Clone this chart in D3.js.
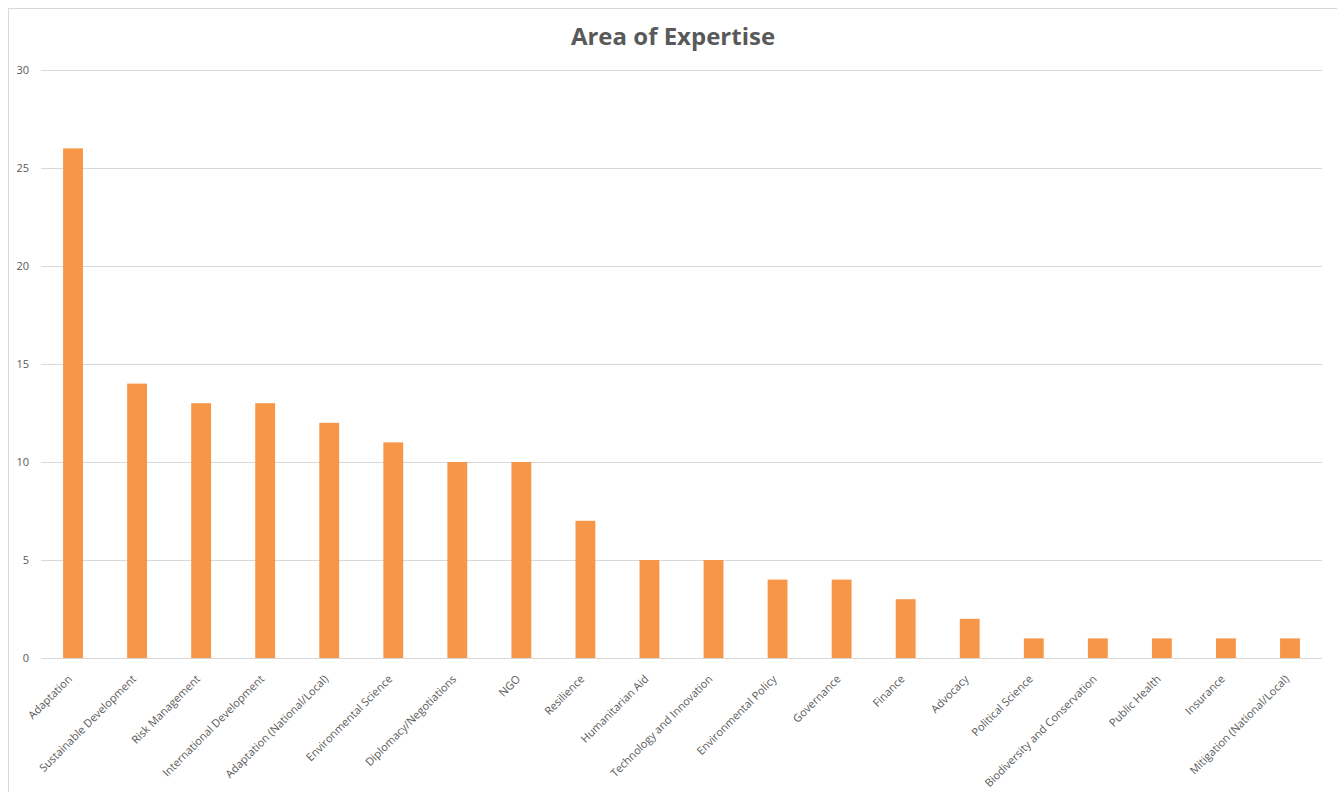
<!DOCTYPE html>
<html>
<head>
<meta charset="utf-8">
<script src="https://cdn.jsdelivr.net/npm/d3@7"></script>
<style>
  body { margin: 0; background: #fff; }
  text { font-family: "Open Sans", "Noto Sans", sans-serif; fill: #595959; }
</style>
</head>
<body>
<div id="chart"></div>
<script>
// Chart data
const categories = [
    "Adaptation", "Sustainable Development", "Risk Management", "International Development",
    "Adaptation (National/Local)", "Environmental Science", "Diplomacy/Negotiations", "NGO",
    "Resilience", "Humanitarian Aid", "Technology and Innovation", "Environmental Policy",
    "Governance", "Finance", "Advocacy", "Political Science", "Biodiversity and Conservation",
    "Public Health", "Insurance", "Mitigation (National/Local)"
];
const counts = [26, 14, 13, 13, 12, 11, 10, 10, 7, 5, 5, 4, 4, 3, 2, 1, 1, 1, 1, 1];
const yTicks = [0, 5, 10, 15, 20, 25, 30];

const svgWidth = 1337;
const svgHeight = 792;

const margin = { top: 70, right: 15, bottom: 134, left: 41 };
const width = svgWidth - margin.left - margin.right;
const height = svgHeight - margin.top - margin.bottom;

const svg = d3.select("#chart")
    .append("svg")
    .attr("width", svgWidth)
    .attr("height", svgHeight);

// Chart frame
svg.append("rect")
    .attr("x", 8.5)
    .attr("y", 8.5)
    .attr("width", svgWidth)
    .attr("height", svgHeight)
    .attr("fill", "none")
    .attr("stroke", "#d9d9d9");

// Title
svg.append("text")
    .attr("x", 673)
    .attr("y", 45)
    .attr("text-anchor", "middle")
    .attr("font-size", "24px")
    .attr("font-weight", "bold")
    .text("Area of Expertise");

const chartGroup = svg.append("g")
    .attr("transform", `translate(${margin.left}, ${margin.top})`);

const xScale = d3.scaleBand()
    .domain(categories)
    .range([0, width])
    .paddingInner(0.69)
    .paddingOuter(0.345);

const yScale = d3.scaleLinear()
    .domain([0, 30])
    .range([height, 0]);

// Gridlines
chartGroup.append("g")
    .selectAll("line")
    .data(yTicks)
    .enter()
    .append("line")
    .attr("x1", 0)
    .attr("x2", width)
    .attr("y1", d => Math.round(yScale(d)) + 0.5)
    .attr("y2", d => Math.round(yScale(d)) + 0.5)
    .attr("stroke", "#d9d9d9");

// Y axis labels
const leftAxis = d3.axisLeft(yScale).tickValues(yTicks).tickSize(0).tickPadding(12);
chartGroup.append("g")
    .call(leftAxis)
    .call(g => g.select(".domain").remove())
    .selectAll("text")
    .attr("font-size", "11px")
    .attr("fill", "#595959");

// Bars
chartGroup.selectAll(".bar")
    .data(counts)
    .enter()
    .append("rect")
    .attr("class", "bar")
    .attr("x", (d, i) => xScale(categories[i]))
    .attr("y", d => yScale(d))
    .attr("width", xScale.bandwidth())
    .attr("height", d => height - yScale(d))
    .attr("fill", "#f79646");

// X axis labels
const bottomAxis = d3.axisBottom(xScale).tickSize(0).tickPadding(0);
chartGroup.append("g")
    .attr("transform", `translate(0, ${height})`)
    .call(bottomAxis)
    .call(g => g.select(".domain").remove())
    .selectAll("text")
    .attr("font-size", "11px")
    .attr("fill", "#595959")
    .attr("text-anchor", "end")
    .attr("dy", "0.35em")
    .attr("transform", "translate(-3, 19) rotate(-45)");
</script>
</body>
</html>
